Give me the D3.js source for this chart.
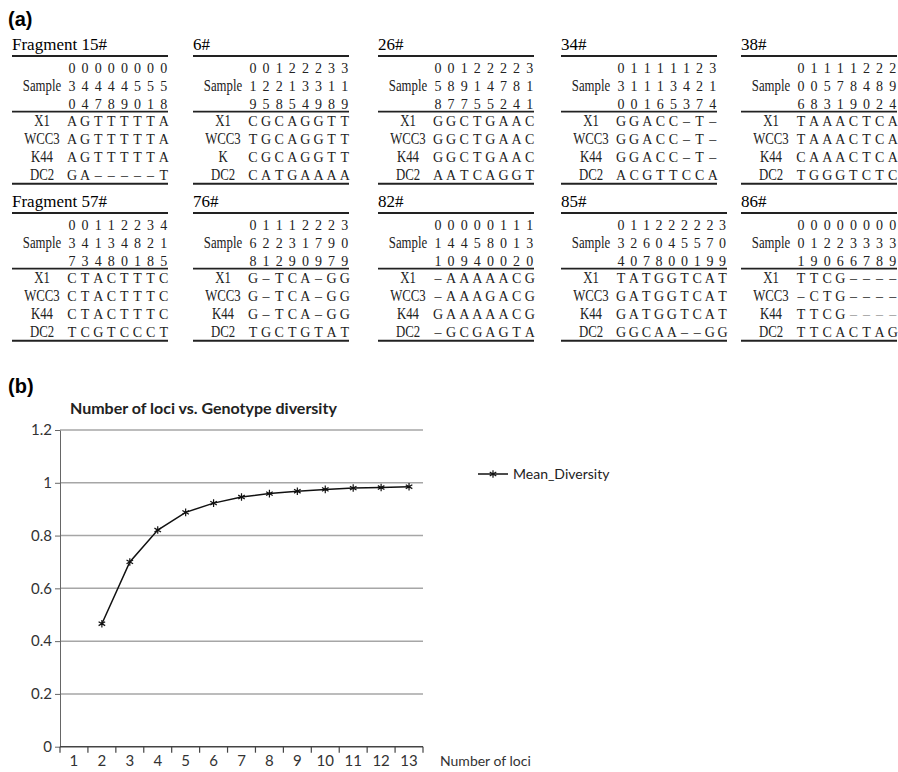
<!DOCTYPE html>
<html lang="en">
<head>
<meta charset="UTF-8">
<title>Number of loci vs. Genotype diversity</title>
<style>
  body { margin: 0; background: #fff; }
</style>
</head>
<body>
<script src="https://cdn.jsdelivr.net/npm/d3@7"></script>
<script>
// ---------- data: panel (a) ----------
const fragNames = ["Fragment 15#", "6#", "26#", "34#", "38#",
                   "Fragment 57#", "76#", "82#", "85#", "86#"];
// three header rows = polymorphic site positions, read top to bottom
const fragSites = [
  ["00000000", "34444555", "04789018"],
  ["00122233", "12213311", "95854989"],
  ["00122223", "58914781", "87755241"],
  ["01111123", "31113421", "00165374"],
  ["01111222", "00578489", "68319024"],
  ["00112234", "34134821", "73480185"],
  ["01112223", "62231790", "81290979"],
  ["00000111", "14458013", "10940020"],
  ["011222223", "326045570", "407800199"],
  ["00000000", "01223333", "19066789"]
];
const fragSamples = [
  ["X1", "WCC3", "K44", "DC2"],
  ["X1", "WCC3", "K", "DC2"],
  ["X1", "WCC3", "K44", "DC2"],
  ["X1", "WCC3", "K44", "DC2"],
  ["X1", "WCC3", "K44", "DC2"],
  ["X1", "WCC3", "K44", "DC2"],
  ["X1", "WCC3", "K44", "DC2"],
  ["X1", "WCC3", "K44", "DC2"],
  ["X1", "WCC3", "K44", "DC2"],
  ["X1", "WCC3", "K44", "DC2"]
];
const fragAlleles = [
  ["AGTTTTTA", "AGTTTTTA", "AGTTTTTA", "GA-----T"],
  ["CGCAGGTT", "TGCAGGTT", "CGCAGGTT", "CATGAAAA"],
  ["GGCTGAAC", "GGCTGAAC", "GGCTGAAC", "AATCAGGT"],
  ["GGACC-T-", "GGACC-T-", "GGACC-T-", "ACGTTCCA"],
  ["TAAACTCA", "TAAACTCA", "CAAACTCA", "TGGGTCTC"],
  ["CTACTTTC", "CTACTTTC", "CTACTTTC", "TCGTCCCT"],
  ["G-TCA-GG", "G-TCA-GG", "G-TCA-GG", "TGCTGTAT"],
  ["-AAAAACG", "-AAAGACG", "GAAAAACG", "-GCGAGTA"],
  ["TATGGTCAT", "GATGGTCAT", "GATGGTCAT", "GGCAA--GG"],
  ["TTCG----", "-CTG----", "TTCG----", "TTCACTAG"]
];

// ---------- data: panel (b) ----------
const loci = ["1", "2", "3", "4", "5", "6", "7", "8", "9", "10", "11", "12", "13"];
const meanDiversity = [null, 0.466, 0.700, 0.821, 0.888, 0.923, 0.946, 0.959, 0.968, 0.975, 0.980, 0.982, 0.985];
const yTicks = [0, 0.2, 0.4, 0.6, 0.8, 1, 1.2];

const width = 898, height = 772;
const svg = d3.select("body").append("svg")
    .attr("width", width)
    .attr("height", height)
    .style("display", "block");

const serif = "'Liberation Serif', 'DejaVu Serif', serif";
const sans = "Lato, 'Open Sans', sans-serif";

// ---------- panel (a): alignment tables ----------
svg.append("text").attr("x", 8).attr("y", 26)
    .style("font-family", "'Liberation Sans', Arial, sans-serif")
    .style("font-weight", "bold").style("font-size", "20px")
    .text("(a)");

const colLeft = [12, 193, 378, 561, 741];
const rowTop = [56, 213];
const rowStep = 17.8;

fragNames.forEach(function (name, i) {
    const x0 = colLeft[i % 5];
    const y0 = rowTop[Math.floor(i / 5)];
    const n = fragSites[i][0].length;
    const w = n > 8 ? 166 : 156;
    const cx = d3.scalePoint().domain(d3.range(n))
        .range([x0 + 60, x0 + 60 + (n > 8 ? 12.7 : 13.1) * (n - 1)]);
    const g = svg.append("g");

    g.append("text").attr("x", x0).attr("y", y0 - 6)
        .style("font-family", serif).style("font-size", "17px")
        .text(name);

    // rules
    g.append("line").attr("x1", x0).attr("x2", x0 + w)
        .attr("y1", y0).attr("y2", y0)
        .attr("stroke", "#222").attr("stroke-width", 2);
    g.append("line").attr("x1", x0).attr("x2", x0 + w)
        .attr("y1", y0 + 17 + rowStep * 2 + 3).attr("y2", y0 + 17 + rowStep * 2 + 3)
        .attr("stroke", "#222").attr("stroke-width", 1.6);
    g.append("line").attr("x1", x0).attr("x2", x0 + w)
        .attr("y1", y0 + 17 + rowStep * 6 + 4).attr("y2", y0 + 17 + rowStep * 6 + 4)
        .attr("stroke", "#222").attr("stroke-width", 2);

    const rows = fragSites[i].concat(fragAlleles[i]);
    const labels = ["", "Sample", ""].concat(fragSamples[i]);
    rows.forEach(function (s, r) {
        const y = y0 + 17 + rowStep * r;
        if (labels[r]) {
            g.append("text")
                .attr("transform", "translate(" + (x0 + 30) + "," + y + ") scale(0.8,1)")
                .attr("text-anchor", "middle")
                .style("font-family", serif).style("font-size", "16px")
                .attr("fill", "#222")
                .text(labels[r]);
        }
        g.selectAll(null).data(s.split("")).enter().append("text")
            .attr("x", (c, k) => cx(k))
            .attr("y", y)
            .attr("text-anchor", "middle")
            .style("font-family", serif).style("font-size", "14px")
            .attr("fill", (c) => (i === 9 && r === 5 && c === "-") ? "#999" : "#222")
            .text((c) => c === "-" ? "\u2013" : c);
    });
});

// ---------- panel (b): line chart ----------
svg.append("text").attr("x", 8).attr("y", 393)
    .style("font-family", "'Liberation Sans', Arial, sans-serif")
    .style("font-weight", "bold").style("font-size", "20px")
    .text("(b)");

svg.append("text").attr("x", 70).attr("y", 414)
    .style("font-family", sans).style("font-weight", "bold").style("font-size", "16px")
    .attr("fill", "#222")
    .text("Number of loci vs. Genotype diversity");

const plotL = 60, plotR = 423, plotT = 430, plotB = 746.7;
const x = d3.scaleBand().domain(loci).range([plotL, plotR]);
const y = d3.scaleLinear().domain([0, 1.2]).range([plotB, plotT]);

// gridlines
svg.append("g").selectAll("line").data(yTicks.filter(d => d > 0)).enter().append("line")
    .attr("x1", plotL).attr("x2", plotR)
    .attr("y1", d => y(d)).attr("y2", d => y(d))
    .attr("stroke", "#a6a6a6").attr("stroke-width", 1.5);

// y axis
const yAxis = svg.append("g").attr("transform", "translate(" + plotL + ",0)")
    .call(d3.axisLeft(y).tickValues(yTicks).tickSize(5).tickSizeOuter(0)
        .tickFormat(d => String(+d.toFixed(1))));
yAxis.select(".domain").attr("stroke", "#666");
yAxis.selectAll(".tick line").attr("stroke", "#666");
yAxis.selectAll(".tick text")
    .style("font-family", sans).style("font-size", "15px").attr("fill", "#333").attr("x", -8);

// x axis: ticks on category boundaries, labels at centres
const xAxis = svg.append("g").attr("transform", "translate(0," + plotB + ")");
xAxis.append("line").attr("x1", plotL).attr("x2", plotR)
    .attr("stroke", "#444").attr("stroke-width", 1.5);
xAxis.selectAll("line.tk").data(loci.concat(["end"])).enter().append("line")
    .attr("class", "tk")
    .attr("x1", d => d === "end" ? plotR : x(d))
    .attr("x2", d => d === "end" ? plotR : x(d))
    .attr("y1", 0).attr("y2", 6)
    .attr("stroke", "#444").attr("stroke-width", 1.2);
xAxis.selectAll("text").data(loci).enter().append("text")
    .attr("x", d => x(d) + x.bandwidth() / 2)
    .attr("y", 19)
    .attr("text-anchor", "middle")
    .style("font-family", sans).style("font-size", "15px").attr("fill", "#333")
    .text(d => d);
svg.append("text").attr("x", 440).attr("y", plotB + 19)
    .style("font-family", sans).style("font-size", "14px").attr("fill", "#333")
    .text("Number of loci");

// series
const pts = loci.map((d, i) => ({ k: d, v: meanDiversity[i] })).filter(p => p.v != null);
const line = d3.line().x(p => x(p.k) + x.bandwidth() / 2).y(p => y(p.v));
svg.append("path").datum(pts).attr("d", line)
    .attr("fill", "none").attr("stroke", "#111").attr("stroke-width", 1.5);
const marker = d3.symbol(d3.symbolAsterisk, 40);
svg.append("g").selectAll("path").data(pts).enter().append("path")
    .attr("transform", p => "translate(" + (x(p.k) + x.bandwidth() / 2) + "," + y(p.v) + ")")
    .attr("d", marker)
    .attr("fill", "none").attr("stroke", "#111").attr("stroke-width", 1.2);

// legend
const lg = svg.append("g").attr("transform", "translate(478,474)");
lg.append("line").attr("x1", 0).attr("x2", 30).attr("stroke", "#111").attr("stroke-width", 1.5);
lg.append("path").attr("transform", "translate(15,0)").attr("d", marker)
    .attr("fill", "none").attr("stroke", "#111").attr("stroke-width", 1.2);
lg.append("text").attr("x", 35).attr("y", 5)
    .style("font-family", sans).style("font-size", "14px").attr("fill", "#222")
    .text("Mean_Diversity");
</script>
</body>
</html>
